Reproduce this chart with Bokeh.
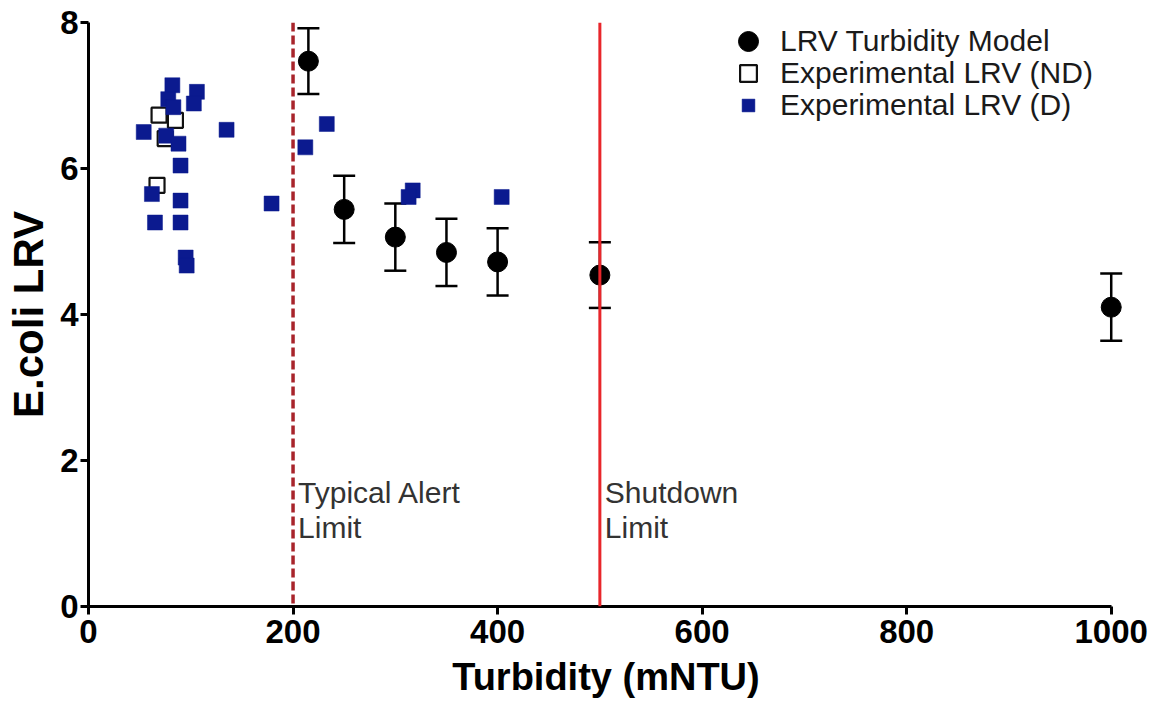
from bokeh.plotting import figure
from bokeh.models import (Range1d, Span, Label, Legend, LegendItem, Whisker,
                          TeeHead, ColumnDataSource, FixedTicker)
from bokeh.embed import file_html
from bokeh.resources import INLINE

# ---------------- data ----------------
model_turbidity = [215, 250, 300, 350, 400, 500, 1000]
model_lrv = [7.47, 5.44, 5.06, 4.85, 4.72, 4.54, 4.10]
model_err = [0.45, 0.46, 0.46, 0.46, 0.46, 0.45, 0.46]

nd_turbidity = [69, 85, 75, 67]
nd_lrv = [6.73, 6.66, 6.41, 5.77]

d_turbidity = [82, 106, 78, 103, 83, 54, 76, 88, 135, 90, 62, 90, 65, 90,
               95, 96, 179, 212, 233, 317, 313, 404]
d_lrv = [7.14, 7.05, 6.95, 6.89, 6.84, 6.50, 6.45, 6.34, 6.53, 6.04, 5.65,
         5.56, 5.26, 5.26, 4.78, 4.67, 5.52, 6.29, 6.61, 5.70, 5.61, 5.61]

alert_limit = 200
shutdown_limit = 500

x_ticks = [0, 200, 400, 600, 800, 1000]
y_ticks = [0, 2, 4, 6, 8]

FONT = "Liberation Sans"
BLUE = "#0b1a8f"

# ---------------- figure ----------------
p = figure(width=1151, height=709, x_range=Range1d(0, 1012), y_range=Range1d(0, 8),
           output_backend="svg", toolbar_location=None,
           min_border_left=88, min_border_right=28, min_border_top=22,
           min_border_bottom=103)
p.outline_line_color = None
p.xgrid.visible = False
p.ygrid.visible = False
p.background_fill_color = "white"
p.border_fill_color = "white"

for ax, ticks in ((p.xaxis, x_ticks), (p.yaxis, y_ticks)):
    ax.ticker = FixedTicker(ticks=ticks)
    ax.axis_line_width = 3
    ax.axis_line_color = "black"
    ax.major_tick_line_width = 3
    ax.major_tick_line_color = "black"
    ax.major_tick_out = 8
    ax.major_tick_in = 0
    ax.minor_tick_line_color = None
    ax.major_label_text_font = FONT
    ax.major_label_text_font_style = "bold"
    ax.major_label_text_font_size = "33px"
    ax.major_label_text_color = "black"
    ax.axis_label_text_font = FONT
    ax.axis_label_text_font_style = "bold"
    ax.axis_label_text_color = "black"

p.xaxis.bounds = (0, 1000)
p.yaxis.bounds = (0, 8)
p.xaxis.axis_label = "Turbidity (mNTU)"
p.yaxis.axis_label = "E.coli LRV"
p.xaxis.axis_label_text_font_size = "38px"
p.yaxis.axis_label_text_font_size = "42px"
p.xaxis.major_label_standoff = 5
p.yaxis.major_label_standoff = 2
p.xaxis.axis_label_standoff = 10
p.yaxis.axis_label_standoff = 5

# limit lines
p.add_layout(Span(location=alert_limit, dimension="height", line_color="#a8242b",
                  line_width=3.5, line_dash="9 4"))
p.add_layout(Span(location=shutdown_limit, dimension="height", line_color="#e8262b",
                  line_width=3))

for xv, lines in ((alert_limit, ["Typical Alert", "Limit"]),
                  (shutdown_limit, ["Shutdown", "Limit"])):
    for txt, yv in zip(lines, [1.56, 1.08]):
        p.add_layout(Label(x=xv, y=yv, x_offset=5, text=txt, text_font=FONT,
                           text_font_size="30px", text_color="#333333",
                           text_baseline="alphabetic"))

# data
model_src = ColumnDataSource(dict(
    x=model_turbidity, y=model_lrv,
    upper=[a + b for a, b in zip(model_lrv, model_err)],
    lower=[a - b for a, b in zip(model_lrv, model_err)]))

p.add_layout(Whisker(source=model_src, base="x", upper="upper", lower="lower",
                     line_width=2.5, line_color="black",
                     upper_head=TeeHead(size=22, line_width=2.5, line_color="black"),
                     lower_head=TeeHead(size=22, line_width=2.5, line_color="black")))

r_nd = p.scatter(nd_turbidity, nd_lrv, marker="square", size=15, fill_color="white",
                 fill_alpha=0, line_color="#111111", line_width=2.2)
r_d = p.scatter(d_turbidity, d_lrv, marker="square", size=15, fill_color=BLUE,
                line_color=BLUE, line_width=0.5)
r_model = p.scatter("x", "y", source=model_src, marker="circle", size=20,
                    fill_color="black", line_color="black")

# legend (one per row so each marker gets its own size)
def make_legend(label, rend, gw, gh, standoff, loc):
    leg = Legend(items=[LegendItem(label=label, renderers=[rend])],
                 location=loc, glyph_width=gw, glyph_height=gh, label_height=gh,
                 label_standoff=standoff, padding=0, margin=0, spacing=0,
                 border_line_color=None, background_fill_alpha=0,
                 label_text_font=FONT, label_text_font_size="30px",
                 label_text_color="#1a1a1a")
    p.add_layout(leg, "center")

make_legend("LRV Turbidity Model", r_model, 50, 50, 7, (635, 540))
make_legend("Experimental LRV (ND)", r_nd, 42, 42, 11, (639, 512))
make_legend("Experimental LRV (D)", r_d, 32, 36, 16, (644, 483))

open("out.html", "w").write(file_html(p, INLINE))
